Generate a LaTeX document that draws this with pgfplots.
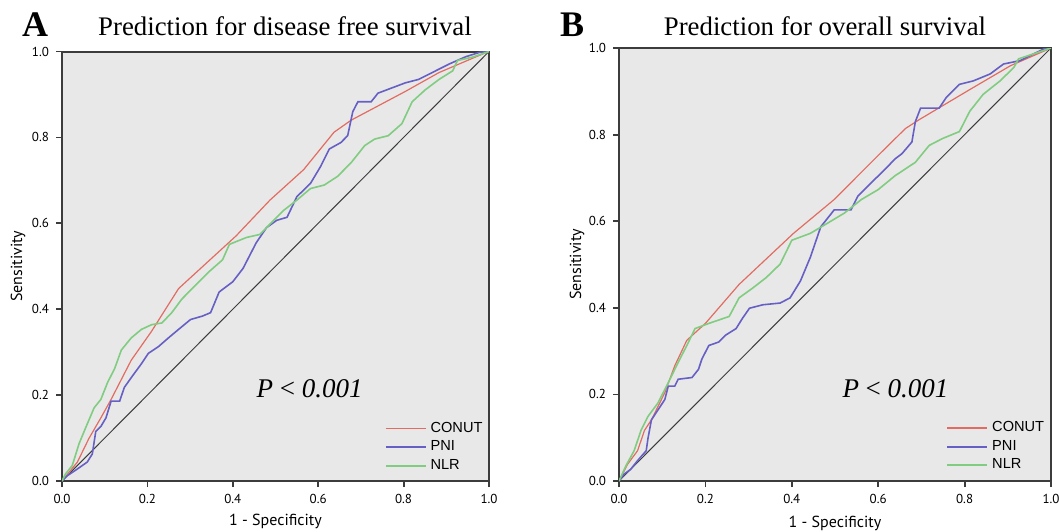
\documentclass[border=0pt]{standalone}
\usepackage{fontspec}
\setmainfont{Liberation Serif}
\setsansfont{PT Sans}
\newfontfamily\arialfont{Liberation Sans}
\usepackage{pgfplots}
\pgfplotsset{compat=1.18}

\definecolor{panelbg}{RGB}{232,232,232}
\definecolor{conutred}{RGB}{226,108,98}
\definecolor{pniblue}{RGB}{102,96,196}
\definecolor{nlrgreen}{RGB}{128,204,128}
\definecolor{framegray}{RGB}{60,60,60}

\pgfplotsset{
  rocpanel/.style={
    scale only axis,
    anchor=south west,
    xmin=0, xmax=1, ymin=0, ymax=1,
    xtick={0,0.2,...,1}, ytick={0,0.2,...,1},
    tick pos=left,
    tick align=outside, major tick length=3pt,
    tick style={framegray, line width=0.9pt},
    axis line style={framegray, line width=1pt},
    axis background/.style={fill=panelbg},
    xticklabel style={/pgf/number format/.cd, fixed, fixed zerofill, precision=1, assume math mode=true},
    yticklabel style={/pgf/number format/.cd, fixed, fixed zerofill, precision=1, assume math mode=true},
    ticklabel style={font=\sffamily\fontsize{6.5}{7}\selectfont},
    label style={font=\sffamily\fontsize{8}{9}\selectfont},
    xlabel={1 - Specificity},
    ylabel={Sensitivity},
    legend cell align=left,
    legend style={draw=none, fill=none, text=black, font=\arialfont\fontsize{7.3}{9}\selectfont,
      row sep=-1.2pt, inner sep=0pt},
    legend image code/.code={\begin{scope}\draw[#1, line width=0.9pt] (0cm,0cm) -- (20pt,0cm);\end{scope}},
  },
  conut/.style={draw=conutred, line width=0.6pt},
  pni/.style={draw=pniblue, line width=0.8pt},
  nlr/.style={draw=nlrgreen, line width=0.8pt},
}

\begin{document}
\begin{tikzpicture}
\path[use as bounding box] (0,0) rectangle (529.5pt,265.5pt);

% panel A
\node[font=\bfseries\fontsize{18}{19}\selectfont] at (17.5pt,253pt) {A};
\node[font=\fontsize{13.4}{15}\selectfont] at (142.5pt,252.5pt) {Prediction for disease free survival};
\begin{axis}[rocpanel, at={(31pt,25pt)}, width=213.5pt, height=214.75pt,
  xlabel style={at={(axis description cs:0.5,0)}, anchor=center, yshift=-20pt},
  ylabel style={at={([xshift=-22pt]axis description cs:0,0.5)}, anchor=center},
  legend style={at={(axis cs:0.755,0.148)}, anchor=north west}]
\addplot[framegray, line width=0.5pt, forget plot] coordinates {(0,0) (1,1)};
\addplot[conut] coordinates {(0,0) (0.036,0.044) (0.063,0.099) (0.091,0.147) (0.115,0.19) (0.162,0.281) (0.21,0.349) (0.273,0.448) (0.329,0.499) (0.408,0.571) (0.487,0.654) (0.566,0.725) (0.637,0.812) (0.677,0.84) (0.804,0.907) (0.883,0.951) (0.994,0.998) (1,1)};
\addlegendentry{CONUT}
\addplot[pni] coordinates {(0,0) (0.012,0.012) (0.036,0.028) (0.059,0.044) (0.071,0.063) (0.079,0.115) (0.091,0.127) (0.103,0.147) (0.115,0.186) (0.135,0.186) (0.146,0.218) (0.166,0.246) (0.186,0.273) (0.202,0.297) (0.226,0.313) (0.249,0.333) (0.273,0.353) (0.301,0.376) (0.329,0.384) (0.348,0.392) (0.368,0.44) (0.4,0.464) (0.424,0.495) (0.455,0.555) (0.479,0.59) (0.503,0.607) (0.527,0.614) (0.55,0.662) (0.582,0.693) (0.606,0.733) (0.626,0.773) (0.653,0.788) (0.669,0.804) (0.681,0.86) (0.693,0.883) (0.724,0.883) (0.74,0.903) (0.772,0.915) (0.804,0.927) (0.835,0.935) (0.867,0.951) (0.907,0.971) (0.946,0.988) (0.978,0.998) (1,1)};
\addlegendentry{PNI}
\addplot[nlr] coordinates {(0,0) (0.008,0.016) (0.024,0.036) (0.04,0.087) (0.055,0.123) (0.075,0.17) (0.091,0.19) (0.107,0.23) (0.123,0.261) (0.139,0.305) (0.162,0.333) (0.186,0.353) (0.21,0.364) (0.234,0.368) (0.257,0.392) (0.281,0.424) (0.313,0.456) (0.344,0.487) (0.376,0.515) (0.392,0.551) (0.432,0.567) (0.463,0.574) (0.487,0.598) (0.519,0.63) (0.55,0.654) (0.582,0.681) (0.614,0.689) (0.645,0.709) (0.677,0.741) (0.709,0.781) (0.732,0.796) (0.764,0.804) (0.796,0.832) (0.82,0.883) (0.851,0.911) (0.883,0.935) (0.915,0.955) (0.926,0.979) (0.962,0.987) (1,1)};
\addlegendentry{NLR}
\node[font=\fontsize{13.5}{15}\selectfont] at (axis cs:0.58,0.215) {\textit{P} < \textit{0.001}};
\end{axis}

% panel B
\node[font=\bfseries\fontsize{18}{19}\selectfont] at (286pt,253pt) {B};
\node[font=\fontsize{13.4}{15}\selectfont] at (412.5pt,252.5pt) {Prediction for overall survival};
\begin{axis}[rocpanel, at={(309.5pt,25pt)}, width=216pt, height=216.5pt,
  xlabel style={at={(axis description cs:0.5,0)}, anchor=center, yshift=-21pt},
  ylabel style={at={([xshift=-21pt]axis description cs:0,0.5)}, anchor=center},
  legend style={at={(axis cs:0.757,0.148)}, anchor=north west}]
\addplot[framegray, line width=0.5pt, forget plot] coordinates {(0,0) (1,1)};
\addplot[conut] coordinates {(0,0) (0.02,0.039) (0.043,0.07) (0.059,0.117) (0.075,0.141) (0.106,0.204) (0.129,0.266) (0.157,0.325) (0.2,0.364) (0.278,0.454) (0.404,0.572) (0.498,0.65) (0.6,0.752) (0.663,0.814) (0.694,0.834) (0.812,0.904) (0.906,0.959) (1,1)};
\addlegendentry{CONUT}
\addplot[pni] coordinates {(0,0) (0.012,0.016) (0.027,0.027) (0.043,0.047) (0.063,0.07) (0.067,0.098) (0.075,0.141) (0.09,0.164) (0.106,0.188) (0.114,0.219) (0.129,0.219) (0.137,0.235) (0.169,0.239) (0.184,0.258) (0.192,0.282) (0.208,0.313) (0.231,0.321) (0.247,0.337) (0.271,0.352) (0.286,0.376) (0.302,0.399) (0.333,0.407) (0.373,0.411) (0.396,0.423) (0.42,0.462) (0.443,0.517) (0.467,0.587) (0.498,0.626) (0.537,0.626) (0.553,0.658) (0.584,0.689) (0.616,0.72) (0.639,0.744) (0.655,0.756) (0.678,0.783) (0.686,0.83) (0.698,0.861) (0.741,0.861) (0.757,0.885) (0.788,0.916) (0.82,0.924) (0.859,0.94) (0.89,0.963) (0.929,0.971) (0.961,0.987) (0.984,0.998) (1,1)};
\addlegendentry{PNI}
\addplot[nlr] coordinates {(0,0) (0.016,0.035) (0.035,0.07) (0.051,0.117) (0.067,0.149) (0.09,0.18) (0.114,0.227) (0.137,0.274) (0.157,0.313) (0.176,0.352) (0.208,0.364) (0.255,0.38) (0.278,0.423) (0.31,0.446) (0.341,0.47) (0.373,0.501) (0.4,0.556) (0.443,0.572) (0.482,0.595) (0.522,0.619) (0.561,0.65) (0.6,0.673) (0.639,0.705) (0.686,0.736) (0.718,0.775) (0.749,0.791) (0.788,0.807) (0.812,0.854) (0.843,0.893) (0.882,0.924) (0.914,0.955) (0.925,0.975) (0.961,0.987) (1,1)};
\addlegendentry{NLR}
\node[font=\fontsize{13.5}{15}\selectfont] at (axis cs:0.64,0.213) {\textit{P} < \textit{0.001}};
\end{axis}
\end{tikzpicture}
\end{document}
